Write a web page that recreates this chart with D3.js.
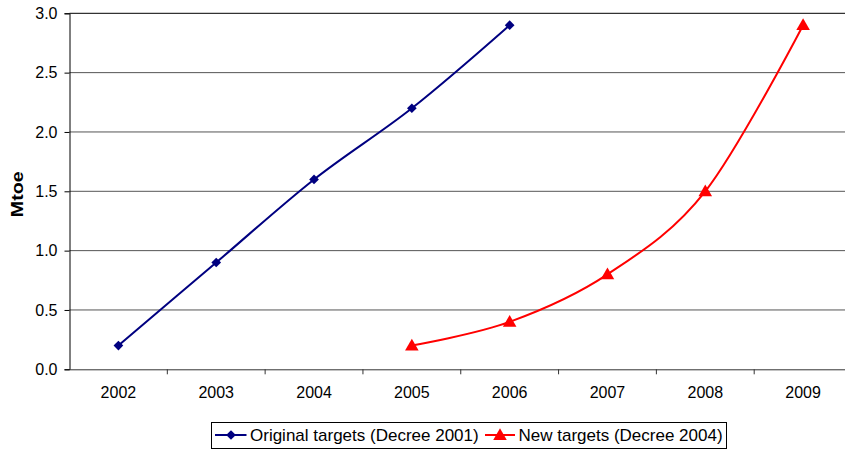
<!DOCTYPE html>
<html><head><meta charset="utf-8">
<script src="https://cdn.jsdelivr.net/npm/d3@7"></script>
<style>body{margin:0;background:#fff}svg{display:block;font-family:"Liberation Sans",Arial,sans-serif}</style>
</head><body><svg id="c" width="845" height="449"></svg>
<script>
const years = ["2002","2003","2004","2005","2006","2007","2008","2009"];
const originalYears = ["2002","2003","2004","2005","2006"];
const originalValues = [0.2, 0.9, 1.6, 2.2, 2.9];
const newYears = ["2005","2006","2007","2008","2009"];
const newValues = [0.2, 0.4, 0.8, 1.5, 2.9];
const yTicks = [0, 0.5, 1.0, 1.5, 2.0, 2.5, 3.0];

const svg = d3.select("#c");
const L = 69.5, R = 852, T = 13.3, B = 369.3;
const x = d3.scaleBand().domain(years).range([L, R]);
const y = d3.scaleLinear().domain([0, 3]).range([B, T]);
const FONT = "Liberation Sans, Arial, sans-serif";

// gridlines
svg.append("g").selectAll("line").data(yTicks.filter(d => d > 0)).join("line")
  .attr("x1", L).attr("x2", R).attr("y1", d => y(d)).attr("y2", d => y(d))
  .attr("stroke", d => d === 3 ? "#000" : "#555").attr("stroke-width", 1);

// y axis
const ya = svg.append("g").attr("transform", `translate(${L},0)`)
  .call(d3.axisLeft(y).tickValues(yTicks).tickFormat(d3.format(".1f")).tickSize(5).tickPadding(7));
ya.select(".domain").attr("stroke", "#000");
ya.selectAll("text").attr("font-size", 16).attr("fill", "#000").attr("font-family", FONT);

// x axis
const xa = svg.append("g").attr("transform", `translate(0,${B})`)
  .call(d3.axisBottom(x).tickSize(0).tickPadding(17.5));
xa.select(".domain").attr("stroke", "#333");
xa.selectAll("text").attr("font-size", 16).attr("fill", "#000").attr("font-family", FONT);
svg.append("g").selectAll("line").data(years.slice(1)).join("line")
  .attr("x1", d => x(d)).attr("x2", d => x(d)).attr("y1", B).attr("y2", B + 5).attr("stroke", "#333");

svg.append("text").attr("transform", `translate(23,${(T + B) / 2 + 3}) rotate(-90)`)
  .attr("text-anchor", "middle").attr("font-size", 17).attr("font-weight", "bold")
  .attr("textLength", 46).attr("lengthAdjust", "spacingAndGlyphs").text("Mtoe");

const cx = d => x(d) + x.bandwidth() / 2;
const line = d3.line().x(d => cx(d[0])).y(d => y(d[1])).curve(d3.curveCatmullRom.alpha(0));

const blue = "#000080", red = "#ff0000";
const od = originalYears.map((d, i) => [d, originalValues[i]]);
const nd = newYears.map((d, i) => [d, newValues[i]]);

svg.append("path").datum(od).attr("d", line).attr("fill", "none").attr("stroke", blue).attr("stroke-width", 2);
svg.append("path").datum(nd).attr("d", line).attr("fill", "none").attr("stroke", red).attr("stroke-width", 2);

const diamond = d3.symbol().type(d3.symbolDiamond2).size(60);
const tri = d3.symbol().type(d3.symbolTriangle).size(80);
svg.append("g").selectAll("path").data(od).join("path")
  .attr("transform", d => `translate(${cx(d[0])},${y(d[1])})`).attr("d", diamond).attr("fill", blue);
svg.append("g").selectAll("path").data(nd).join("path")
  .attr("transform", d => `translate(${cx(d[0])},${y(d[1]) + 1})`).attr("d", tri).attr("fill", red);

// legend
const lg = svg.append("g");
lg.append("rect").attr("x", 211.5).attr("y", 422.5).attr("width", 515).attr("height", 26).attr("fill", "#fff").attr("stroke", "#000");
const ly = 435;
lg.append("line").attr("x1", 215).attr("x2", 246.5).attr("y1", ly).attr("y2", ly).attr("stroke", blue).attr("stroke-width", 2);
lg.append("path").attr("transform", `translate(231,${ly})`).attr("d", diamond).attr("fill", blue);
lg.append("text").attr("x", 250).attr("y", 441).attr("font-size", 17).attr("font-family", FONT).text("Original targets (Decree 2001)");
lg.append("line").attr("x1", 485).attr("x2", 515).attr("y1", ly).attr("y2", ly).attr("stroke", red).attr("stroke-width", 2);
lg.append("path").attr("transform", `translate(500,${ly + 1})`).attr("d", tri).attr("fill", red);
lg.append("text").attr("x", 518.5).attr("y", 441).attr("font-size", 17).attr("font-family", FONT).text("New targets (Decree 2004)");
</script></body></html>
